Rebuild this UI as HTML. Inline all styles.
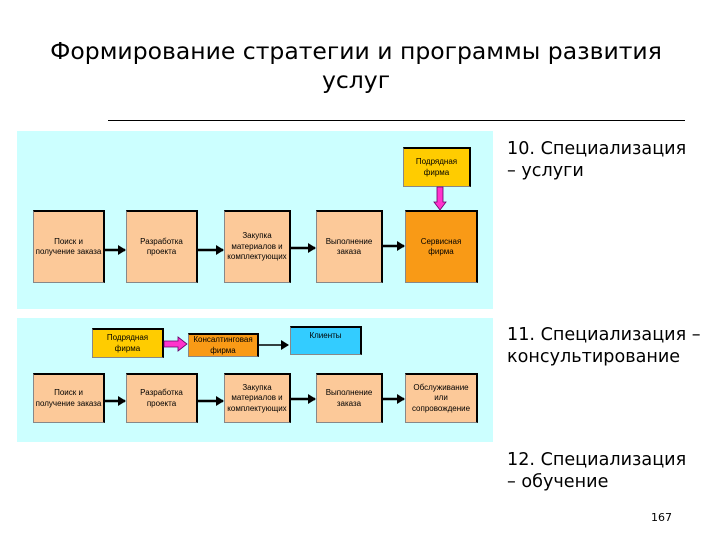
<!DOCTYPE html><html><head><meta charset="utf-8"><style>
body{margin:0;width:720px;height:540px;background:#fff;position:relative;font-family:"DejaVu Sans","Liberation Sans",sans-serif;overflow:hidden}
.a{position:absolute}
.t{position:absolute;left:0;width:712px;text-align:center;font-size:23.5px;color:#000;white-space:nowrap}
.p{position:absolute;background:#ccffff}
.b{position:absolute;background:#fcc999;border-top:2px solid #000;border-right:2px solid #000;border-left:1px solid #888;border-bottom:1px solid #888;box-sizing:border-box;display:flex;align-items:center;justify-content:center;text-align:center;font-size:8px;font-family:"Liberation Sans",sans-serif;line-height:1.3;color:#000}
.r{position:absolute;font-size:17.6px;line-height:22px;color:#000;white-space:nowrap}
</style></head><body>
<div class="t" style="top:37px">Формирование стратегии и программы развития</div>
<div class="t" style="top:66px">услуг</div>
<div class="a" style="left:108px;top:120px;width:577px;height:1px;background:#000"></div>

<div class="p" style="left:17px;top:131px;width:476px;height:178px"></div>
<div class="p" style="left:17px;top:318px;width:476px;height:124px"></div>

<div class="b" style="left:33px;top:210px;width:72px;height:73px">Поиск и<br>получение заказа</div>
<div class="b" style="left:126px;top:210px;width:72px;height:73px">Разработка<br>проекта</div>
<div class="b" style="left:224px;top:210px;width:67px;height:73px">Закупка<br>материалов и<br>комплектующих</div>
<div class="b" style="left:316px;top:210px;width:67px;height:73px">Выполнение<br>заказа</div>
<div class="b" style="left:405px;top:210px;width:73px;height:73px;background:#f99a16">Сервисная<br>фирма</div>
<div class="b" style="left:403px;top:147px;width:68px;height:40px;background:#ffcc00">Подрядная<br>фирма</div>

<div class="b" style="left:33px;top:373px;width:72px;height:50px">Поиск и<br>получение заказа</div>
<div class="b" style="left:126px;top:373px;width:72px;height:50px">Разработка<br>проекта</div>
<div class="b" style="left:224px;top:373px;width:67px;height:50px">Закупка<br>материалов и<br>комплектующих</div>
<div class="b" style="left:316px;top:373px;width:67px;height:50px">Выполнение<br>заказа</div>
<div class="b" style="left:405px;top:373px;width:73px;height:50px">Обслуживание<br>или<br>сопровождение</div>
<div class="b" style="left:92px;top:328px;width:72px;height:30px;background:#ffcc00">Подрядная<br>фирма</div>
<div class="b" style="left:188px;top:333px;width:71px;height:24px;background:#f99a16">Консалтинговая<br>фирма</div>
<div class="b" style="left:290px;top:326px;width:72px;height:29px;background:#33ccff;align-items:flex-start;padding-top:3px">Клиенты</div>

<svg class="a" style="left:0;top:0" width="720" height="540">
<defs><marker id="m" markerWidth="8" markerHeight="10" refX="7" refY="5" orient="auto" markerUnits="userSpaceOnUse"><path d="M0,0L8,5L0,10z" fill="#000"/></marker></defs>
<g stroke="#000" stroke-width="2.5" marker-end="url(#m)">
<line x1="105" y1="250" x2="125" y2="250"/><line x1="198" y1="250" x2="223" y2="250"/><line x1="291" y1="248" x2="315" y2="248"/><line x1="383" y1="246" x2="404" y2="246"/>
<line x1="105" y1="401" x2="125" y2="401"/><line x1="198" y1="401" x2="223" y2="401"/><line x1="291" y1="399" x2="315" y2="399"/><line x1="383" y1="399" x2="404" y2="399"/>
</g>
<line x1="259" y1="345" x2="288" y2="345" stroke="#000" stroke-width="1.5" marker-end="url(#m)"/>
<path d="M437,187h6v15h3l-6,8l-6,-8h3z" fill="#ff33cc" stroke="#660066" stroke-width="0.8"/>
<path d="M164,341h14v-4l9,7l-9,7v-4h-14z" fill="#ff33cc" stroke="#660066" stroke-width="0.8"/>
</svg>

<div class="r" style="left:507px;top:138px">10. Специализация<br>– услуги</div>
<div class="r" style="left:507px;top:324px">11. Специализация –<br>консультирование</div>
<div class="r" style="left:507px;top:449px">12. Специализация<br>– обучение</div>
<div class="a" style="left:651px;top:511px;font-size:11px">167</div>
</body></html>
